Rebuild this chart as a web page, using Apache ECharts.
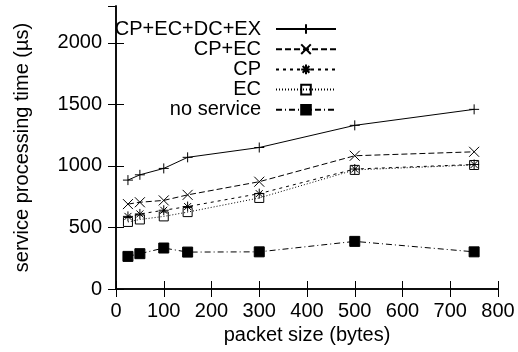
<!DOCTYPE html>
<html><head><meta charset="utf-8">
<script src="https://cdn.jsdelivr.net/npm/echarts@6/dist/echarts.min.js"></script>
<style>html,body{margin:0;padding:0;background:#fff}#c{width:518px;height:352px}</style>
</head><body><div id="c"></div>
<script>
const packetSizes = [25, 50, 100, 150, 300, 500, 750];
const seriesNames = ['CP+EC+DC+EX', 'CP+EC', 'CP', 'EC', 'no service'];
const allServices = [885, 928, 980, 1070, 1150, 1330, 1460];
const cpEc = [690, 705, 720, 765, 872, 1083, 1115];
const cpOnly = [590, 610, 640, 670, 775, 975, 1012];
const ecOnly = [545, 565, 590, 625, 740, 968, 1008];
const noService = [265, 287, 333, 300, 302, 387, 302];
const xTicks = [0, 100, 200, 300, 400, 500, 600, 700, 800];
const yTicks = [0, 500, 1000, 1500, 2000];

const FONT = 'Liberation Sans, Arial, sans-serif';
const PLUS = 'path://M0,5L10,5M5,0L5,10';
const CROSS = 'path://M0,0L10,10M0,10L10,0';
const STAR = 'path://M0,5L10,5M5,0L5,10M1.5,1.5L8.5,8.5M1.5,8.5L8.5,1.5';

function pairs(vals){ return packetSizes.map((x,i)=>[x, vals[i]]); }

const styles = [
  {data: allServices, symbol: PLUS, size: 10, dash: 'solid', fill: 'none'},
  {data: cpEc, symbol: CROSS, size: 10, dash: [6,3], fill: 'none'},
  {data: cpOnly, symbol: STAR, size: 10, dash: [3,4], fill: 'none'},
  {data: ecOnly, symbol: 'rect', size: 9, dash: [1,2], fill: 'none'},
  {data: noService, symbol: 'rect', size: 10, dash: [6,3,1,3], fill: '#000'}
];

const series = styles.map((s,i)=>({
  name: seriesNames[i], type: 'line', data: pairs(s.data),
  symbol: s.symbol, symbolSize: s.size, showAllSymbol: true,
  lineStyle: {color: '#000', width: 1, type: s.dash},
  itemStyle: {color: s.fill, borderColor: '#000', borderWidth: 1},
  emphasis: {disabled: true}, animation: false, z: 3
}));

const axisCommon = {
  axisLine: {show: true, lineStyle: {color: '#000', width: 1.5}},
  axisTick: {show: true, inside: true, length: 8, lineStyle: {color: '#000', width: 1}},
  splitLine: {show: false}
};
const plain = v => String(v);

const chart = echarts.init(document.getElementById('c'), null, {renderer: 'canvas'});
chart.setOption({
  backgroundColor: '#fff',
  animation: false,
  grid: {left: 116, right: 20, top: 6, bottom: 63, containLabel: false},
  legend: {
    data: seriesNames, orient: 'vertical', align: 'right',
    right: 181, top: 19, padding: 0, itemGap: 0.2,
    itemWidth: 60, itemHeight: 12, selectedMode: false,
    textStyle: {fontFamily: FONT, fontSize: 20, color: '#000', lineHeight: 20, padding: [0, 10, 0, 0]}
  },
  xAxis: [
    Object.assign({type: 'value', min: xTicks[0], max: xTicks[xTicks.length-1], interval: xTicks[1]-xTicks[0],
      name: 'packet size (bytes)', nameLocation: 'middle', nameGap: 36,
      nameTextStyle: {fontFamily: FONT, fontSize: 20, color: '#000'},
      axisLabel: {fontFamily: FONT, fontSize: 20, color: '#000', margin: 12, formatter: plain}}, axisCommon),
    Object.assign({type: 'value', position: 'top', min: xTicks[0], max: xTicks[xTicks.length-1], interval: xTicks[1]-xTicks[0],
      axisLabel: {show: false}}, axisCommon)
  ],
  yAxis: [
    Object.assign({type: 'value', min: yTicks[0], max: 2300, interval: yTicks[1]-yTicks[0],
      name: 'service processing time (µs)', nameLocation: 'middle', nameGap: 84,
      nameTextStyle: {fontFamily: FONT, fontSize: 20, color: '#000'},
      axisLabel: {fontFamily: FONT, fontSize: 20, color: '#000', margin: 14, showMaxLabel: false, formatter: plain}}, axisCommon),
    Object.assign({type: 'value', position: 'right', min: yTicks[0], max: 2300, interval: yTicks[1]-yTicks[0],
      axisLabel: {show: false}}, axisCommon)
  ],
  series: series
});
</script></body></html>
